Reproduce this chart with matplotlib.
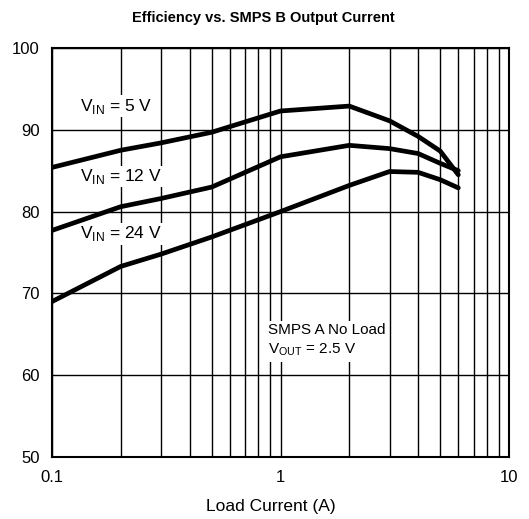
import matplotlib
matplotlib.use("Agg")
import matplotlib.pyplot as plt
from matplotlib.ticker import FixedLocator, NullFormatter

plt.rcParams['font.family'] = ['Liberation Sans', 'DejaVu Sans']

load_current = [0.1, 0.2, 0.3, 0.5, 1.0, 2.0, 3.0, 4.0, 5.0, 6.0]
eff_5v = [85.4, 87.5, 88.4, 89.7, 92.3, 92.9, 91.1, 89.2, 87.4, 84.5]
eff_12v = [77.7, 80.6, 81.6, 83.0, 86.7, 88.1, 87.7, 87.1, 85.9, 85.0]
eff_24v = [69.0, 73.3, 74.8, 76.9, 80.0, 83.2, 84.9, 84.8, 83.9, 82.9]

x_ticks = [0.1, 1, 10]
x_tick_labels = ["0.1", "1", "10"]
y_ticks = [50, 60, 70, 80, 90, 100]

fig = plt.figure(figsize=(5.29, 5.19), dpi=100)
ax = fig.add_axes([52/529, 1-457/519, (509-52)/529, (457-48)/519])

for y in (eff_5v, eff_12v, eff_24v):
    ax.plot(load_current, y, color='black', lw=3.4, solid_joinstyle='round',
            solid_capstyle='round', zorder=3)

ax.set_xscale('log')
ax.set_xlim(0.1, 10)
ax.set_ylim(50, 100)
ax.xaxis.set_major_locator(FixedLocator(x_ticks))
ax.set_xticklabels(x_tick_labels)
ax.xaxis.set_minor_locator(FixedLocator([a*m for a in (0.1, 1) for m in range(2, 10)]))
ax.xaxis.set_minor_formatter(NullFormatter())
ax.set_yticks(y_ticks)
ax.grid(True, which='both', axis='x', color='black', lw=1.0)
ax.grid(True, which='major', axis='y', color='black', lw=1.0)
ax.tick_params(which='both', length=0, labelsize=12, pad=9)
for s in ax.spines.values():
    s.set_linewidth(1.5)

ax.set_xlabel("Load Current (A)", fontsize=12.5, va='center')
ax.xaxis.set_label_coords((271-52)/457, (457-507)/409)
fig.text(263/529, 1-18/519, "Efficiency vs. SMPS B Output Current", fontsize=10.5,
         fontweight='bold', ha='center', va='center')

box = dict(facecolor='white', edgecolor='none', pad=1.0)
ax.text(0.132, 92.9, r"V$_{\mathregular{IN}}$ = 5 V", fontsize=12.5, va='center', ha='left', bbox=box, zorder=2)
ax.text(0.132, 84.3, r"V$_{\mathregular{IN}}$ = 12 V", fontsize=12.5, va='center', ha='left', bbox=box, zorder=2)
ax.text(0.132, 77.3, r"V$_{\mathregular{IN}}$ = 24 V", fontsize=12.5, va='center', ha='left', bbox=box, zorder=2)
ax.text(0.88, 64.2, "SMPS A No Load\n" + r"V$_{\mathregular{OUT}}$ = 2.5 V", fontsize=11,
        va='center', ha='left', linespacing=1.35,
        bbox=dict(facecolor='white', edgecolor='none', pad=3.0), zorder=2)

fig.savefig("out.png", dpi=100)
